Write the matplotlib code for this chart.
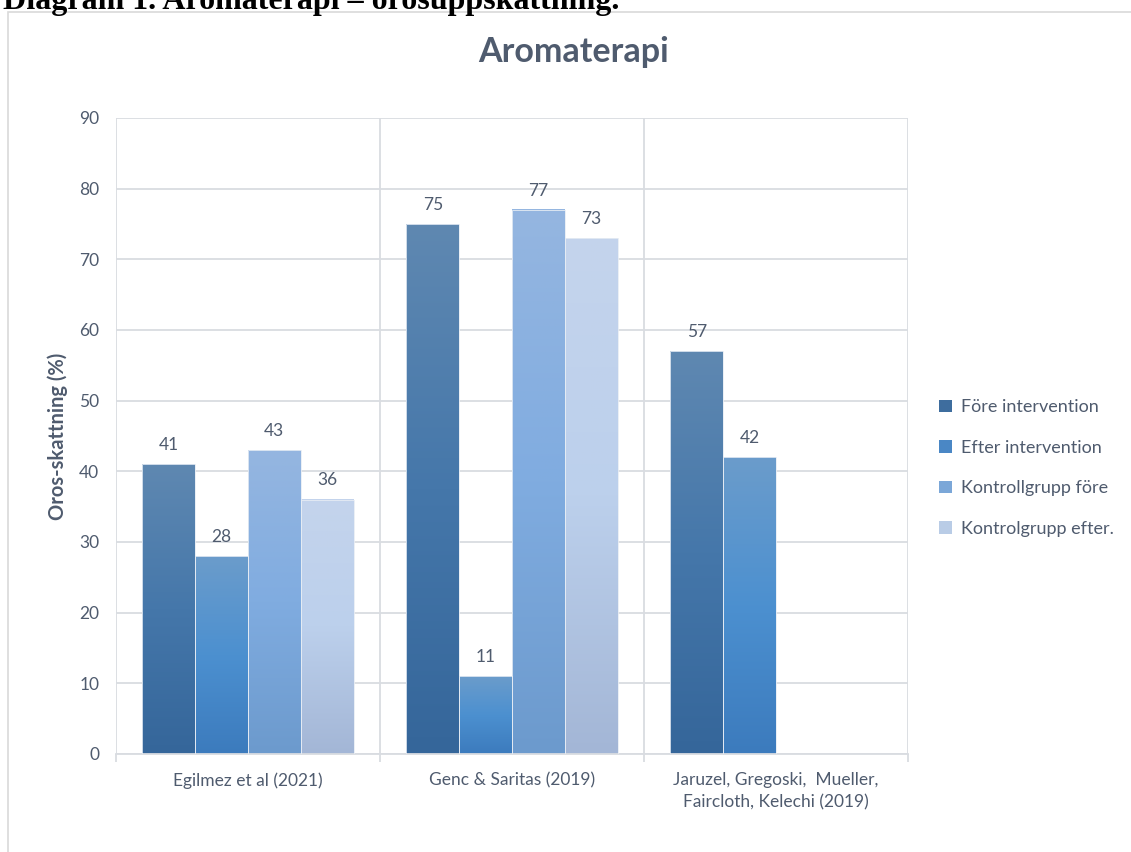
import numpy as np
import matplotlib.pyplot as plt
from matplotlib.colors import LinearSegmentedColormap
from matplotlib.patches import Patch, Rectangle

plt.rcParams['font.family'] = ['Lato', 'DejaVu Sans']

studies = ['Egilmez et al (2021)', 'Genc & Saritas (2019)',
           'Jaruzel, Gregoski,  Mueller,\nFaircloth, Kelechi (2019)']
series = ['Före intervention', 'Efter intervention', 'Kontrollgrupp före', 'Kontrolgrupp efter.']
fore_int = [41, 75, 57]
efter_int = [28, 11, 42]
kontroll_fore = [43, 77, np.nan]
kontroll_efter = [36, 73, np.nan]
values = [fore_int, efter_int, kontroll_fore, kontroll_efter]

# gradient stops per series: bottom, middle, top
grads = [('#35669a', '#4577aa', '#5f88b1'),
         ('#3c7bbd', '#4c90d0', '#6b9ccb'),
         ('#6c9acd', '#80ace0', '#95b6e0'),
         ('#a3b6d6', '#bcd0ec', '#c4d4ec')]
solid = ['#3e6d9e', '#4a87c5', '#7ba7d8', '#b9cce6']

txt = '#4f5b6e'
grid_c = '#d9dce1'

fig = plt.figure(figsize=(11.31, 8.52), dpi=100)
ax = fig.add_axes([116 / 1131, 1 - 754 / 852, 792 / 1131, 636 / 852])

# outer chart border
fig.add_artist(Rectangle((8 / 1131, -0.01), 1.1, 1 - 12 / 852 + 0.01, transform=fig.transFigure,
                         fill=False, edgecolor='#d9d9d9', linewidth=1.2))

fig.text(3 / 1131, 1 - 9.5 / 852, 'Diagram 1. Aromaterapi – orosuppskattning.',
         family='Liberation Serif', fontweight='bold', fontsize=23, va='baseline', ha='left')

x = np.arange(len(studies))
w = 0.2
offsets = [-0.3, -0.1, 0.1, 0.3]
for i, vals in enumerate(values):
    bars = ax.bar(x + offsets[i], vals, width=w, facecolor='none', edgecolor='none')
    cmap = LinearSegmentedColormap.from_list(f'g{i}', grads[i])
    for rect, v in zip(bars, vals):
        if np.isnan(v):
            continue
        x0, h = rect.get_x(), rect.get_height()
        ax.imshow(np.linspace(0, 1, 256).reshape(-1, 1), cmap=cmap, origin='lower',
                  extent=[x0, x0 + w, 0, h], aspect='auto', zorder=2)
        ax.add_patch(Rectangle((x0, 0), w, h, fill=False, edgecolor='#e6ecf4',
                               linewidth=0.6, zorder=3))
        ax.text(x0 + w / 2, h + 1.6, f'{v:g}', ha='center', va='bottom',
                fontsize=12.5, color=txt, zorder=4)

ax.set_xlim(-0.5, 2.5)
ax.set_ylim(0, 90)
ax.set_yticks(range(0, 91, 10))
ax.set_xticks(x)
ax.set_xticklabels(studies, fontsize=12.5, color=txt, linespacing=1.5)
ax.set_xticks([-0.5, 0.5, 1.5, 2.5], minor=True)
ax.tick_params(axis='x', which='major', length=0, pad=13)
ax.tick_params(axis='x', which='minor', length=6, color=grid_c, width=1.3)
ax.tick_params(axis='y', length=0, labelsize=12.5, labelcolor=txt, pad=12)
ax.grid(axis='y', color=grid_c, linewidth=1.3, zorder=0)
for b in [-0.5, 0.5, 1.5, 2.5]:
    ax.axvline(b, color=grid_c, linewidth=1.3, zorder=0)
for s in ['top', 'right', 'left']:
    ax.spines[s].set_visible(False)
ax.spines['bottom'].set_color(grid_c)
ax.spines['bottom'].set_linewidth(1.3)
ax.set_axisbelow(True)

ax.set_ylabel('Oros-skattning (%)', fontsize=14.5, fontweight='bold', color=txt, labelpad=8)
fig.text(574 / 1131, 1 - 52 / 852, 'Aromaterapi', fontsize=24.5, fontweight='bold',
         color=txt, ha='center', va='center')

handles = [Patch(facecolor=c, edgecolor='none') for c in solid]
fig.legend(handles, series, loc='center left', bbox_to_anchor=(923 / 1131, 1 - 468 / 852),
           frameon=False, fontsize=13, labelcolor=txt, handlelength=0.7, handleheight=0.7,
           handletextpad=0.5, labelspacing=1.35)

fig.savefig('out.png', dpi=100)
